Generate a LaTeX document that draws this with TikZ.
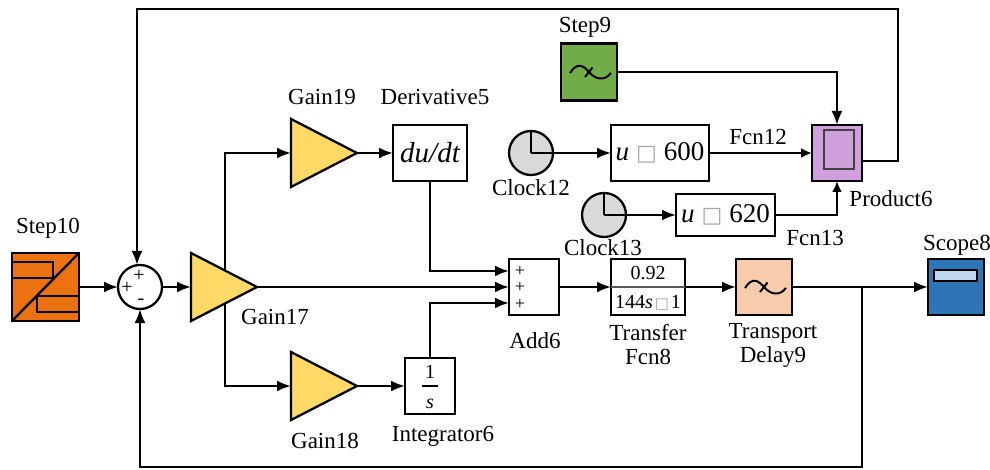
\documentclass[tikz,border=0pt]{standalone}
\usepackage{fontspec}
\setmainfont{Liberation Serif}
\newfontfamily\symfont{DejaVu Sans}
\usepackage{xcolor}
\usetikzlibrary{shapes.geometric,arrows.meta,positioning,backgrounds}
\definecolor{steporange}{HTML}{EC7211}
\definecolor{stepgreen}{HTML}{70AD47}
\definecolor{gainyellow}{HTML}{FFD966}
\definecolor{delaypeach}{HTML}{F8CBAD}
\definecolor{scopeblue}{HTML}{2E75B6}
\definecolor{scopelight}{HTML}{BDD7EE}
\definecolor{prodpurple}{HTML}{CFA0DC}
\definecolor{clockgray}{HTML}{D9D9D9}
% caixa vazia do texto original
\newcommand{\tofu}[1]{{\color{gray!70}\symfont\fontsize{#1}{#1}\selectfont\char"25A1}}
% onda senoidal com traco
\newcommand{\wavemark}[1]{%
  \draw[line width=2pt, shift={(#1.center)}] (-19,1) .. controls (-12,-10) and (-6,-7) .. (0,0)
        .. controls (6,7) and (15,10) .. (22,1);
  \draw[line width=2pt, shift={(#1.center)}] (-4,5) -- (3.5,-4.5);}
\begin{document}
\begin{tikzpicture}[
  x=1pt, y=-1pt,
  line width=2.3pt,
  block/.style={draw, line width=2.3pt, outer sep=0pt, inner sep=0pt, minimum width=#1},
  block/.default=56pt,
  sbox/.style={block, fill=white, minimum height=56pt},
  cbox/.style={block=56pt, minimum height=56pt},
  tri/.style={draw, line width=2.3pt, outer sep=0pt, inner sep=0pt, fill=gainyellow, isosceles triangle,
              isosceles triangle stretches, minimum width=68pt, minimum height=66pt},
  circ/.style={draw, line width=2.3pt, circle, outer sep=0pt, inner sep=0pt, minimum size=44pt},
  arr/.style={line width=2.3pt, -{Latex[length=14pt,width=11pt]}},
  sarr/.style={line width=2.3pt, -{Latex[length=11pt,width=10pt]}},
  lbl/.style={font=\fontsize{23}{24}\selectfont, align=center, inner sep=0pt},
  big/.style={font=\fontsize{27}{30}\selectfont},
  sgn/.style={font=\fontsize{18}{18}\selectfont, inner sep=0pt},
  num/.style={font=\fontsize{20}{20}\selectfont, inner sep=0pt}
]
  \useasboundingbox (0,0) rectangle (990,470);

  % Entrada e soma
  \node[cbox, fill=steporange, minimum width=67pt, minimum height=68pt] (step10) at (45.5,287) {};
  \node[circ, right=39pt of step10] (sum) {};
  \node[num] (sumtop) at (139,276) {+};
  \node[num] (sumleft) at (127,288) {+};
  \node[num] (sumbot) at (141,302) {-};

  % Ganhos
  \node[tri, anchor=west, right=29pt of sum] (gain17) {};
  \node[tri, anchor=west] (gain19) at (291,153) {};
  \node[tri, anchor=west] (gain18) at (291,386) {};

  % Derivada e integrador
  \node[sbox, right=36pt of gain19, minimum width=74pt] (deriv)
        {\fontsize{29}{30}\selectfont\itshape du/dt};
  \node[sbox, right=48pt of gain18, minimum width=50pt] (integ) {};
  \node[num] (intnum) at (430,372) {1};
  \node[num, font=\fontsize{20}{20}\selectfont\itshape] (intden) at (430,404) {s};

  % Cadeia principal
  \node[sbox, minimum width=50pt] (add) at (534,287) {};
  \node[sgn] (addone) at (520,271) {+};
  \node[sgn] (addtwo) at (520,287.5) {+};
  \node[sgn] (addthree) at (520,304) {+};
  \node[sbox, right=52pt of add, minimum width=74pt] (tf) {};
  \node[num] (tfnum) at (648,273) {0.92};
  \node[num] (tfden) at (648,303) {144\textit{s}\hspace{2pt}\tofu{15}\hspace{2pt}1};
  \node[cbox, fill=delaypeach, right=51pt of tf] (delay) {};
  \node[cbox, fill=scopeblue, right=136pt of delay] (scope) {};
  \node[draw, fill=scopelight, minimum width=43pt, minimum height=11pt, inner sep=0pt, outer sep=0pt]
        (scopewin) at (955.5,275.5) {};

  % Ramo superior
  \node[cbox, fill=stepgreen, minimum height=57pt] (step9) at (589,72) {};
  \node[circ, fill=clockgray] (clock12) at (531,153) {};
  \node[sbox, big, minimum width=98pt] (fcn12) at (660,153) {\textit{u}\hspace{7pt}\tofu{22}\hspace{7pt}600};
  \node[circ, fill=clockgray] (clock13) at (604,215) {};
  \node[sbox, big, minimum width=99pt, minimum height=42pt] (fcn13) at (725.5,215) {\textit{u}\hspace{7pt}\tofu{22}\hspace{7pt}620};
  \node[sbox, fill=prodpurple, minimum width=50pt] (prod) at (837,153) {};
  \node[draw=black!75, line width=1.3pt, minimum width=30pt, minimum height=39pt, inner sep=0pt, outer sep=0pt]
        (prodwin) at (839,149.5) {};

  % Rotulos
  \node[lbl] (lstep10) at (48,228) {Step10};
  \node[lbl] (lstep9) at (585,27) {Step9};
  \node[lbl] (lgain19) at (322,97) {Gain19};
  \node[lbl] (lderiv) at (435,97) {Derivative5};
  \node[lbl] (lgain17) at (275,317) {Gain17};
  \node[lbl] (lgain18) at (325,441) {Gain18};
  \node[lbl] (linteg) at (443,436) {Integrator6};
  \node[lbl] (ladd) at (535,341) {Add6};
  \node[lbl] (ltf) at (648,345) {Transfer\\Fcn8};
  \node[lbl] (ldelay) at (773,345) {Transport\\Delay9};
  \node[lbl] (lscope) at (957,245) {Scope8};
  \node[lbl] (lclock12) at (531,188) {Clock12};
  \node[lbl] (lclock13) at (603,248) {Clock13};
  \node[lbl] (lfcn12) at (758,137) {Fcn12};
  \node[lbl] (lfcn13) at (815,238) {Fcn13};
  \node[lbl] (lprod) at (891,199) {Product6};

  % Detalhes dos blocos
  \draw[shift={(step10.center)}] (-33.5,34) -- (33.5,-34);
  \draw[shift={(step10.center)}] (-33.5,-25) -- (7.5,-25) -- (7.5,-9) -- (-33.5,-9);
  \draw[shift={(step10.center)}] (33.5,9) -- (-8.5,9) -- (-8.5,25) -- (33.5,25);
  \wavemark{step9}
  \wavemark{delay}
  \draw[line width=1.6pt] (clock12.north) -- (clock12.center);
  \draw[line width=1.6pt] (clock13.north) -- (clock13.center);
  \draw[line width=1.4pt] ([xshift=-8pt]integ.center) -- ([xshift=8pt]integ.center);
  \draw[line width=1.4pt, black!65] (tf.west) -- (tf.east);

  % Setas
  \coordinate (tap) at (225,287);
  \coordinate (fb) at (862,287);
  \coordinate (topr) at (898,9);
  \draw[arr] (step10) -- (sum);
  \draw[arr] (sum) -- (gain17.west);
  \draw[arr] (gain17.east) -- (add.west);
  \begin{scope}[on background layer]
    \draw[arr] (tap) |- (gain19.west);
    \draw[arr] (tap) |- (gain18.west);
  \end{scope}
  \draw[arr] (gain19.east) -- (deriv);
  \draw[arr] (gain18.east) -- (integ);
  \draw[arr] (deriv.south) |- ([yshift=16pt]add.west);
  \draw[arr] (integ.north) |- ([yshift=-16pt]add.west);
  \draw[arr] (add) -- (tf);
  \draw[arr] (tf) -- (delay);
  \draw[arr] (delay) -- (scope);
  \draw[arr] (step9.east) -| (prod.north);
  \draw[arr] (clock12.center) -- (fcn12.west);
  \draw[arr] (clock13.center) -- (fcn13);
  \draw[sarr] (fcn12.east) -- (prod);
  \draw[sarr] (fcn13.east) -| (prod.south);
  % Realimentacao
  \draw[arr] ([yshift=-8pt]prod.east) -| (topr) -| ([xshift=-3pt]sum.north);
  \draw[arr] (fb) -- ++(0,180) -| (sum.south);
\end{tikzpicture}
\end{document}
